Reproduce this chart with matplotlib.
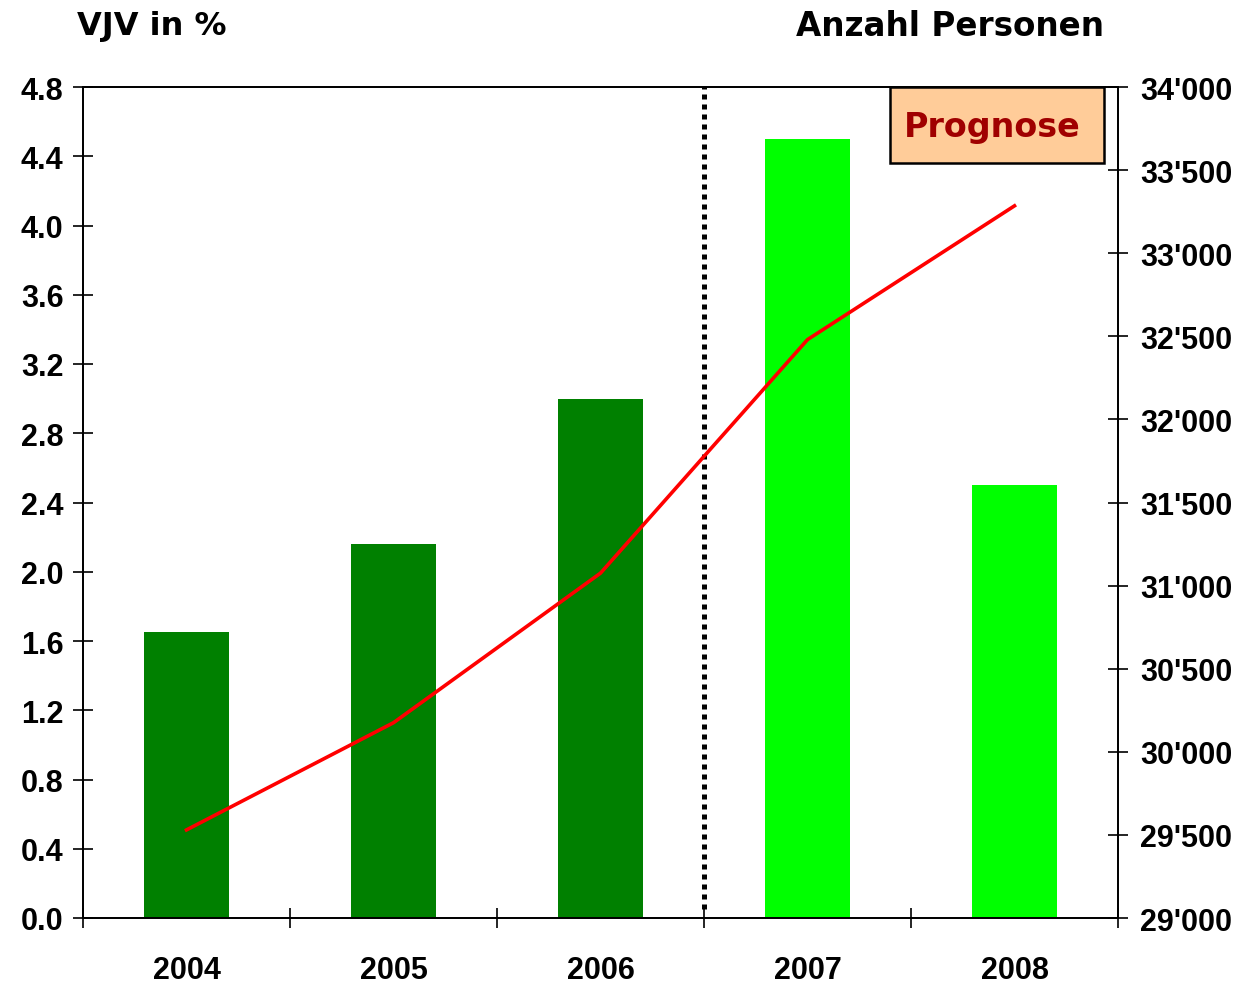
import numpy as np
import matplotlib.pyplot as plt
from matplotlib.patches import Rectangle

years = ["2004", "2005", "2006", "2007", "2008"]
vjv_pct = [1.65, 2.16, 3.0, 4.5, 2.5]
personen = [29530, 30175, 31075, 32480, 33285]
bar_colors = ["#008000", "#008000", "#008000", "#00FF00", "#00FF00"]
left_ticks = [0.0, 0.4, 0.8, 1.2, 1.6, 2.0, 2.4, 2.8, 3.2, 3.6, 4.0, 4.4, 4.8]
right_ticks = [29000, 29500, 30000, 30500, 31000, 31500, 32000, 32500, 33000, 33500, 34000]

NARROW = ["Liberation Sans", "DejaVu Sans"]
TITLE = ["DejaVu Sans"]

fig = plt.figure(figsize=(12.43, 9.87), dpi=100)
ax = fig.add_axes([83 / 1243, 1 - 919 / 987, (1118 - 83) / 1243, (919 - 88) / 987])
x = np.arange(len(years))

ax.bar(x, vjv_pct, width=0.41, color=bar_colors, zorder=2)
ax.set_xlim(-0.5, 4.5)
ax.set_ylim(0, 4.8)
ax.set_yticks(left_ticks)
ax.set_yticklabels([f"{v:.1f}" for v in left_ticks], family=NARROW,
                   fontweight="bold", fontsize=22)
ax.set_xticks(x)
ax.set_xticklabels(years, family=NARROW, fontweight="bold", fontsize=22)
ax.set_xticks(np.arange(-0.5, 5, 1), minor=True)
ax.tick_params(axis="x", which="major", length=0, pad=27)
ax.tick_params(axis="x", which="minor", direction="inout", length=14, width=1.2)
ax.tick_params(axis="y", direction="inout", length=14, width=1.2, pad=7)
for s in ax.spines.values():
    s.set_linewidth(1.3)

# Prognose separator
ax.plot([2.5, 2.5], [0.05, 4.8], color="black", lw=3.6, dashes=(1.0, 1.0),
        zorder=3)

ax2 = ax.twinx()
ax2.plot(x, personen, color="red", lw=2.6, zorder=4)
ax2.set_ylim(29000, 34000)
ax2.set_yticks(right_ticks)
ax2.set_yticklabels([f"{v // 1000}'{v % 1000:03d}" for v in right_ticks],
                    family=NARROW, fontweight="bold", fontsize=22)
ax2.tick_params(axis="y", direction="inout", length=14, width=1.2, pad=9)
for s in ax2.spines.values():
    s.set_linewidth(1.3)

fig.text(77 / 1243, 1 - 27 / 987, "VJV in %", family=TITLE, fontweight="bold",
         fontsize=23, va="center", ha="left")
fig.text(1104 / 1243, 1 - 27 / 987, "Anzahl Personen", family=TITLE,
         fontweight="bold", fontsize=23.5, va="center", ha="right")

fig.patches.append(Rectangle((890 / 1243, 1 - 164 / 987), 214 / 1243, 76 / 987,
                             transform=fig.transFigure, fc="#FFCC99",
                             ec="black", lw=1.8, zorder=5))
fig.text(992 / 1243, 1 - 127 / 987, "Prognose", family=TITLE, fontweight="bold",
         fontsize=24, color="#A00000", ha="center", va="center", zorder=6)

fig.savefig("out.png", dpi=100)
